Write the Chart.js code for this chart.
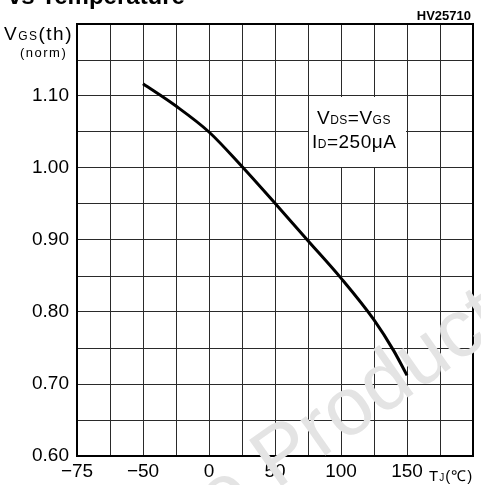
<!DOCTYPE html>
<html>
<head>
<meta charset="utf-8">
<script src="https://cdn.jsdelivr.net/npm/chart.js@4"></script>
<style>
  html, body { margin: 0; padding: 0; background: #fff; }
  #wrap { width: 481px; height: 485px; }
</style>
</head>
<body>
<div id="wrap"><canvas id="chart" width="481" height="485"></canvas></div>
<script>
// junction temperature (°C) and normalized gate threshold voltage
const temps = [-50, -25, 0, 25, 50, 75, 100, 125, 140, 150];
const vgsNorm = [1.117, 1.086, 1.05, 1.002, 0.951, 0.899, 0.847, 0.789, 0.746, 0.712];

// tick labels as printed on the datasheet (grid runs -100..200 in 25° steps)
const xTickLabels = { '-100': '−75', '-50': '−50', '0': '0', '50': '50', '100': '100', '150': '150' };
const yTickLabels = ['0.60', '0.70', '0.80', '0.90', '1.00', '1.10'];

const FONT = '"Liberation Sans", Arial, sans-serif';

function textRun(ctx, parts, x0, y0, spacing) {
  let cx = x0;
  ctx.letterSpacing = (spacing || 0) + 'px';
  parts.forEach(([txt, size]) => {
    ctx.font = size + 'px ' + FONT;
    ctx.fillText(txt, cx, y0);
    cx += ctx.measureText(txt).width;
  });
  ctx.letterSpacing = '0px';
}

const extras = {
  id: 'extras',
  beforeDatasetsDraw(chart) {
    const { ctx, scales: { x, y } } = chart;
    // condition box clears the grid cells behind it
    const l = x.getPixelForValue(75), r = x.getPixelForValue(150);
    const t = y.getPixelForValue(1.10), b = y.getPixelForValue(1.00);
    ctx.save();
    ctx.fillStyle = '#fff';
    ctx.fillRect(l + 1, t + 1, r - l - 2, b - t - 2);
    ctx.fillStyle = '#000';
    ctx.textAlign = 'left';
    ctx.textBaseline = 'alphabetic';
    textRun(ctx, [['V', 19], ['DS', 12], ['=V', 19], ['GS', 12]], l + 9, t + 28, 0.5);
    textRun(ctx, [['I', 19], ['D', 12], ['=250μA', 19]], l + 4, t + 52, 0.5);
    ctx.restore();
  },
  afterDraw(chart) {
    const { ctx, chartArea: a } = chart;
    ctx.save();
    ctx.strokeStyle = '#000';
    ctx.lineWidth = 2;
    ctx.strokeRect(a.left, a.top, a.right - a.left, a.bottom - a.top);

    ctx.fillStyle = '#000';
    ctx.textBaseline = 'alphabetic';
    // title, cut off at the top of the crop
    ctx.font = 'bold 24px ' + FONT;
    ctx.textAlign = 'left';
    ctx.fillText('vs Temperature', 8, 4);
    // figure code
    ctx.font = 'bold 13px ' + FONT;
    ctx.textAlign = 'right';
    ctx.fillText('HV25710', 471, 20);

    // y axis title
    ctx.textAlign = 'left';
    textRun(ctx, [['V', 19], ['GS', 12], ['(th)', 19]], 4, 40, 1.5);
    textRun(ctx, [['(norm)', 13]], 20, 57, 1.5);

    // x axis title
    textRun(ctx, [['T', 15], ['J', 10], ['(℃)', 15]], 429, 481, 1);

    // watermark
    ctx.translate(276, 490);
    ctx.rotate(-35 * Math.PI / 180);
    ctx.font = '82px ' + FONT;
    ctx.fillStyle = '#e4e4e4';
    ctx.textAlign = 'left';
    ctx.fillText('Product(s)', 0, 0);
    ctx.textAlign = 'right';
    ctx.fillText('Obsolete ', 0, 0);
    ctx.restore();
  }
};

new Chart(document.getElementById('chart'), {
  type: 'line',
  data: {
    datasets: [{
      data: temps.map((t, i) => ({ x: t, y: vgsNorm[i] })),
      borderColor: '#000',
      borderWidth: 3,
      pointRadius: 0,
      cubicInterpolationMode: 'monotone',
      fill: false
    }]
  },
  options: {
    responsive: false,
    animation: false,
    layout: { padding: { left: 0, right: 8, top: 24, bottom: 0 } },
    plugins: { legend: { display: false }, tooltip: { enabled: false } },
    scales: {
      x: {
        type: 'linear',
        min: -100,
        max: 200,
        afterBuildTicks(axis) {
          axis.ticks = [];
          for (let v = -100; v <= 200; v += 25) axis.ticks.push({ value: v });
        },
        afterFit(axis) { axis.height = 29; },
        grid: { color: '#2a2a2a', lineWidth: 1, drawTicks: false },
        border: { display: false },
        ticks: {
          autoSkip: false,
          maxRotation: 0,
          padding: 4,
          color: '#000',
          font: { family: FONT, size: 19 },
          callback: v => xTickLabels[String(v)] || ''
        }
      },
      y: {
        type: 'linear',
        min: 0.6,
        max: 1.2,
        afterBuildTicks(axis) {
          axis.ticks = [];
          for (let i = 0; i <= 12; i++) axis.ticks.push({ value: +(0.6 + i * 0.05).toFixed(2) });
        },
        afterFit(axis) { axis.width = 77; },
        grid: { color: '#2a2a2a', lineWidth: 1, drawTicks: false },
        border: { display: false },
        ticks: {
          autoSkip: false,
          padding: 8,
          color: '#000',
          font: { family: FONT, size: 19 },
          callback: v => {
            const s = v.toFixed(2);
            return yTickLabels.includes(s) ? s : '';
          }
        }
      }
    }
  },
  plugins: [extras]
});
</script>
</body>
</html>
